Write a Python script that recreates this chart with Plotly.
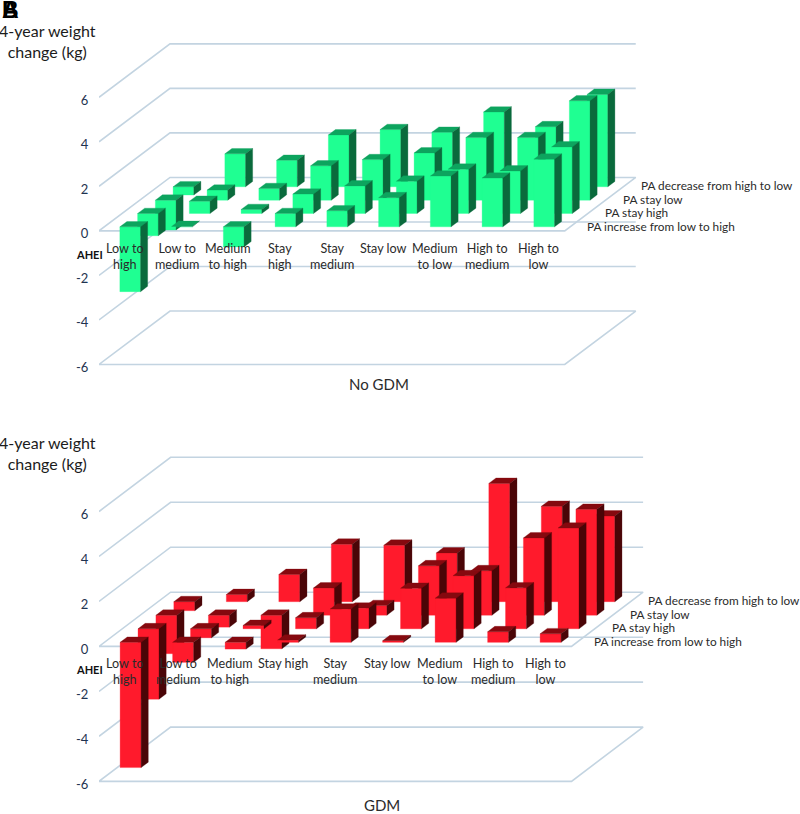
import plotly.graph_objects as go

W, H = 800, 814
FONT = "Lato"
TICK_COLOR = "#1f3350"
TEXT_COLOR = "#2b2b2b"
GRID_COLOR = "#c3d4e1"

categories_a = ["Low to<br>high", "Low to<br>medium", "Medium<br>to high", "Stay<br>high", "Stay<br>medium",
                "Stay low", "Medium<br>to low", "High to<br>medium", "High to<br>low"]
categories_b = ["Low to<br>high", "Low to<br>medium", "Medium<br>to high", "Stay high", "Stay<br>medium",
                "Stay low", "Medium<br>to low", "High to<br>medium", "High to<br>low"]
depth_labels = ["PA increase from low to high", "PA stay high", "PA stay low", "PA decrease from high to low"]
value_ticks = [-6, -4, -2, 0, 2, 4, 6]

# No GDM
a_increase = [-2.91, 0.02, -0.90, 0.60, 0.72, 1.31, 2.28, 2.19, 3.04]
a_high = [-1.00, 0.55, 0.18, 0.87, 1.24, 1.45, 1.99, 1.91, 2.99]
a_low = [-1.34, 0.45, 0.52, 1.54, 1.82, 2.12, 2.81, 2.81, 4.46]
a_decrease = [-0.37, 1.48, 1.19, 2.33, 2.57, 2.45, 3.36, 2.70, 4.15]

# GDM
b_increase = [-5.57, -0.89, -0.30, 0.10, 1.48, 0.07, 1.96, 0.47, 0.38]
b_high = [-3.13, -0.40, 0.15, 0.49, 0.92, 1.80, 2.36, 1.82, 4.48]
b_low = [-1.71, -0.53, -1.49, 1.21, 0.43, 2.20, 1.98, 3.44, 4.71]
b_decrease = [-0.40, 0.32, 1.21, 2.56, 2.51, 2.17, 5.26, 4.24, 3.81]

fig = go.Figure()


def poly(xs, ys, color, xa, ya):
    fig.add_trace(go.Scatter(x=xs, y=ys, mode="lines", fill="toself", fillcolor=color,
                             line=dict(color=color, width=0.3), hoverinfo="skip",
                             showlegend=False, xaxis=xa, yaxis=ya))


def panel(rows, cats, colors, x_px0, cat_px, zero_px, unit_px, row_dx_px, row_dy_px,
          top_px, bottom_px, xa, ya, title, title_y_px):
    row_dx = row_dx_px / cat_px
    row_dy = row_dy_px / unit_px
    n = len(cats)
    m = len(rows)
    xkey = "xaxis" + xa[1:]
    ykey = "yaxis" + ya[1:]
    # axes: mapped so one category and one unit have the reference's pixel size
    fig.update_layout({
        xkey: dict(domain=[x_px0 / W, 1], range=[0, (W - x_px0) / cat_px], visible=False, fixedrange=True,
                   anchor=ya),
        ykey: dict(domain=[1 - bottom_px / H, 1 - top_px / H],
                   range=[(zero_px - bottom_px) / unit_px, (zero_px - top_px) / unit_px],
                   tickmode="array", tickvals=[v - 3 / unit_px for v in value_ticks],
                   ticktext=[str(v) for v in value_ticks],
                   showgrid=False, zeroline=False, showline=False, ticks="outside", ticklen=7,
                   tickcolor="rgba(0,0,0,0)", tickfont=dict(family=FONT, size=13, color=TICK_COLOR),
                   anchor=xa, fixedrange=True),
    })
    # grid
    for v in value_ticks:
        back = v + m * row_dy
        xs = [0, m * row_dx, n + m * row_dx]
        ys = [v, back, back]
        if v in (0, value_ticks[0]):
            xs += [n, 0]
            ys += [v, v]
        fig.add_trace(go.Scatter(x=xs, y=ys, mode="lines", line=dict(color=GRID_COLOR, width=1.6),
                                 hoverinfo="skip", showlegend=False, xaxis=xa, yaxis=ya))
    # bars, back row first
    gap, w = 0.3, 0.4
    d0, d = 0.3, 0.4
    for j in reversed(range(m)):
        for i in range(n):
            v = rows[j][i]
            hi, lo = max(v, 0), min(v, 0)
            x0 = i + gap + (j + d0) * row_dx
            x1 = x0 + w
            y_off = (j + d0) * row_dy
            sx, sy = d * row_dx, d * row_dy
            poly([x0, x1, x1, x0, x0], [lo + y_off, lo + y_off, hi + y_off, hi + y_off, lo + y_off], colors[0], xa, ya)
            poly([x0, x1, x1 + sx, x0 + sx, x0], [hi + y_off, hi + y_off, hi + y_off + sy, hi + y_off + sy, hi + y_off],
                 colors[1], xa, ya)
            poly([x1, x1 + sx, x1 + sx, x1, x1], [lo + y_off, lo + y_off + sy, hi + y_off + sy, hi + y_off, lo + y_off],
                 colors[2], xa, ya)
    # texts
    for i, c in enumerate(cats):
        fig.add_annotation(x=i + 0.5, y=-8 / unit_px, xref=xa, yref=ya, text=c, showarrow=False,
                           yanchor="top", xanchor="center", align="center",
                           font=dict(family=FONT, size=12.6, color=TEXT_COLOR))
    for j, t in enumerate(depth_labels):
        fig.add_annotation(x=n + 0.355 + (j + 0.12) * row_dx, y=(j + 0.36) * row_dy, xref=xa, yref=ya, text=t,
                           showarrow=False, xanchor="left", yanchor="middle",
                           font=dict(family=FONT, size=11.8, color=TEXT_COLOR))
    fig.add_annotation(x=89 / W, y=1 - (zero_px + 23.5) / H, xref="paper", yref="paper", text="<b>AHEI</b>",
                       showarrow=False, xanchor="center", yanchor="middle",
                       font=dict(family=FONT, size=11, color="#111111"))
    fig.add_annotation(x=(x_px0 + cat_px * 4.5 + 47) / W, y=1 - title_y_px / H, xref="paper", yref="paper", text=title,
                       showarrow=False, xanchor="center", yanchor="middle",
                       font=dict(family=FONT, size=15, color=TEXT_COLOR))


panel([a_increase, a_high, a_low, a_decrease], categories_a, ("#1FFF92", "#0DA45E", "#0A6A3C"),
      99, 51.75, 231.7, 22.35, 17.75, 13.4, 21, 373, "x", "y", "No GDM", 385)
panel([b_increase, b_high, b_low, b_decrease], categories_b, ("#FF1A2C", "#85090F", "#4A0507"),
      99, 52.5, 648.8, 22.57, 17.9, 13.6, 442, 792, "x2", "y2", "GDM", 808)

for y_px in (41, 455):
    fig.add_annotation(x=47 / W, y=1 - y_px / H, xref="paper", yref="paper", text="4-year weight<br>change (kg)",
                       showarrow=False, xanchor="center", yanchor="middle", align="center",
                       font=dict(family=FONT, size=16, color="#1c1c1c"))
for ch in ("A", "B"):
    fig.add_annotation(x=0, y=1 - 10 / H, xref="paper", yref="paper", text=f"<b>{ch}</b>", showarrow=False,
                       xanchor="left", yanchor="middle",
                       font=dict(family="Liberation Sans", size=23, color="#000000"))

fig.update_layout(width=W, height=H, margin=dict(l=0, r=0, t=0, b=0), plot_bgcolor="white", paper_bgcolor="white",
                  showlegend=False)
fig.write_html("out.html", config=dict(displayModeBar=False),
               post_script="document.body.style.margin='0';document.documentElement.style.overflow='hidden';")
